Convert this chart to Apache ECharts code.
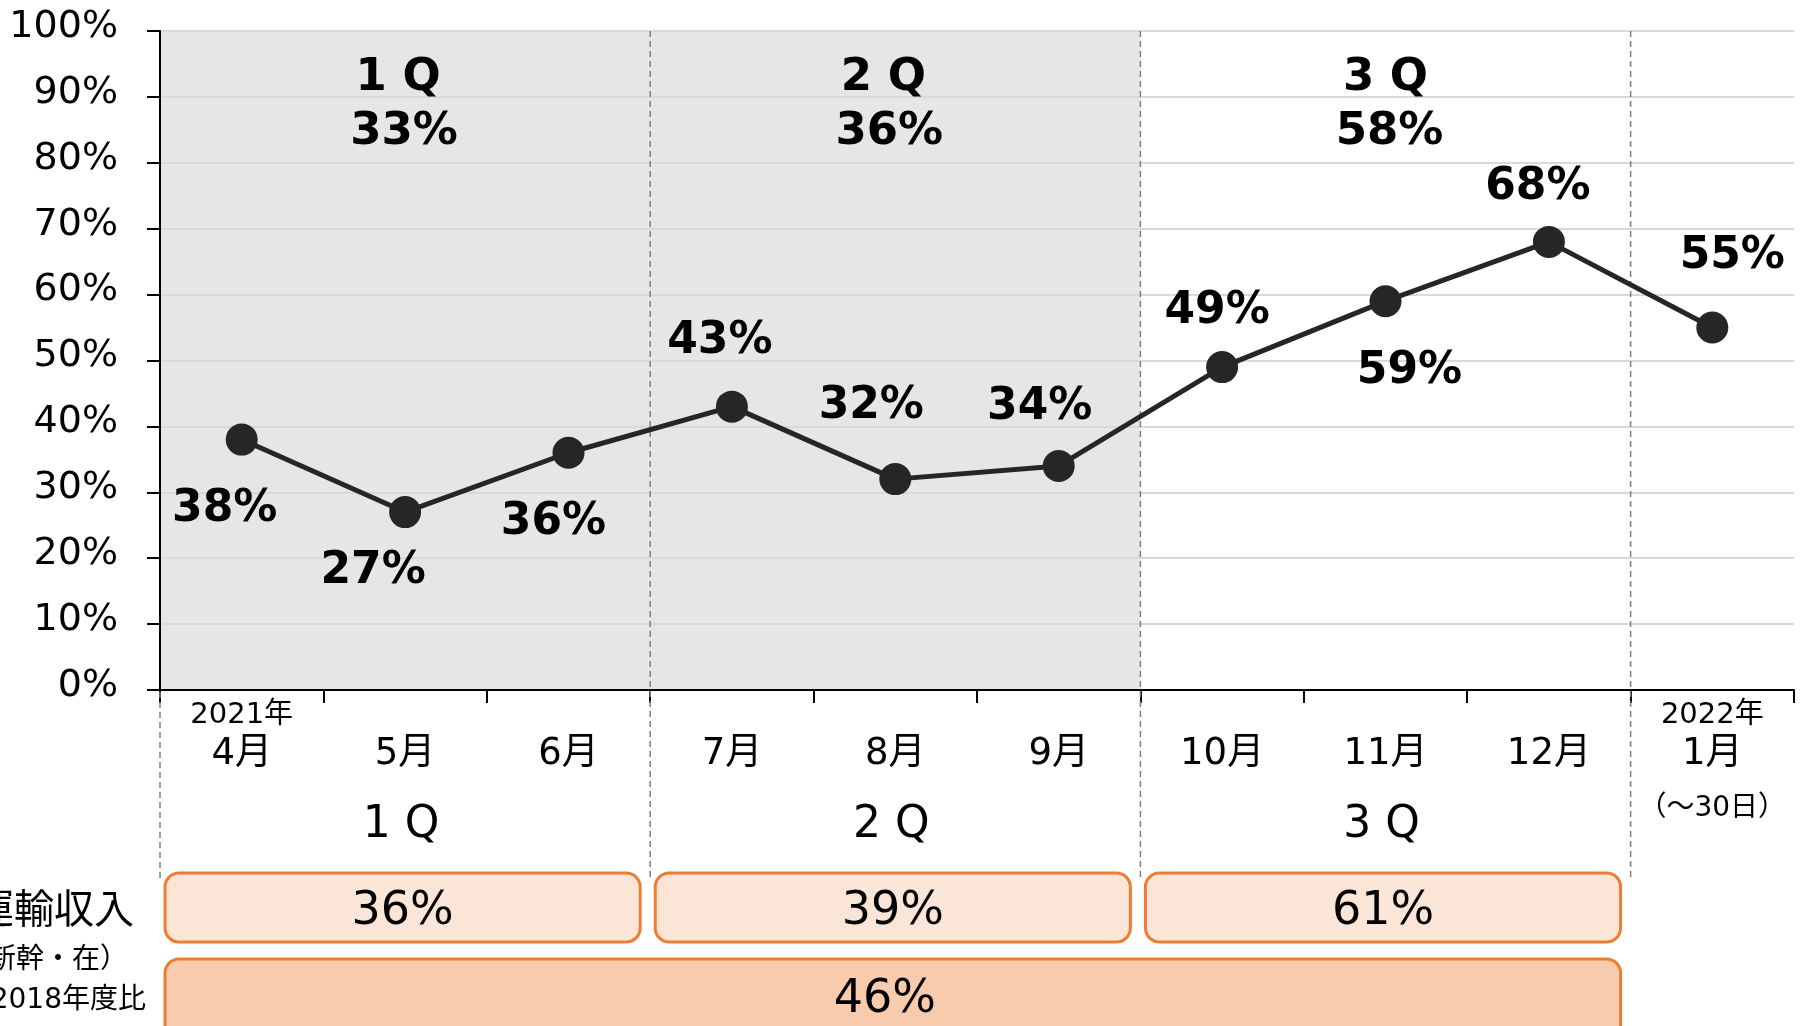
<!DOCTYPE html>
<html><head><meta charset="utf-8">
<script src="https://cdn.jsdelivr.net/npm/echarts@6/dist/echarts.min.js"></script>
<style>html,body{margin:0;padding:0;background:#fff;overflow:hidden}#c{width:1804px;height:1026px}</style>
</head><body><div id="c"></div>
<script>
// ---- data ----
const months = ['4月','5月','6月','7月','8月','9月','10月','11月','12月','1月'];
const yearLabels = ['2021年','','','','','','','','','2022年'];
const noteLabels = ['','','','','','','','','','（～30日）'];
const values = [38,27,36,43,32,34,49,59,68,55];
const quarters = ['1 Q','2 Q','3 Q'];
const quarterRates = [33,36,58];
const quarterRevenue = [36,39,61];
const totalRevenue = 46;
const sideLabels = ['運輸収入','（新幹・在）','2018年度比'];
const shadedMonths = 6;

// ---- styles ----
const labelOffsets = [[-17,70],[-32,59],[-15,70],[-12,-65],[-24,-73],[-19,-58],[-5,-56],[24,70],[-11,-54],[20,-71]];
const topLabelDx = [-7,-12,0];
const topRateDx = [-1,-6,4];
const FONT = "'DejaVu Sans', 'Noto Sans CJK JP', sans-serif";

const chart = echarts.init(document.getElementById('c'), null, {renderer:'canvas'});
const option = {
  animation: false,
  grid: {left:160, right:10, top:31, bottom:336, containLabel:false},
  xAxis: {
    type:'category', data: months, boundaryGap:true,
    axisLine:{show:true, lineStyle:{color:'#000', width:2}},
    axisTick:{show:true, length:13, lineStyle:{color:'#000', width:2}},
    splitLine:{show:false},
    axisLabel:{
      interval:0, margin:7, color:'#000', fontFamily:FONT,
      formatter:(v,i)=>{
        let s = '{y|' + (yearLabels[i] || ' ') + '}\n{m|' + v + '}';
        if (noteLabels[i]) s += '\n{n|' + noteLabels[i] + '}';
        return s;
      },
      rich:{
        y:{fontSize:29, lineHeight:36, fontFamily:FONT, color:'#000'},
        m:{fontSize:37, lineHeight:42, fontFamily:FONT, color:'#000'},
        n:{fontSize:28, lineHeight:68, fontFamily:FONT, color:'#000'}
      }
    }
  },
  yAxis: {
    type:'value', min:0, max:100, interval:10,
    axisLine:{show:true, lineStyle:{color:'#000', width:2}},
    axisTick:{show:true, length:13, lineStyle:{color:'#000', width:2}},
    splitLine:{show:true, lineStyle:{color:'#d9d9d9', width:2}},
    axisLabel:{
      formatter:v => '{a|' + v + '%}', margin:42, color:'#000',
      rich:{a:{fontSize:38, fontFamily:FONT, color:'#000', lineHeight:46, padding:[0,0,8,0]}}
    }
  },
  series: [{
    type:'line', z:5,
    data: values.map((v,i)=>({value:v, label:{offset:labelOffsets[i]}})),
    symbol:'circle', symbolSize:32,
    lineStyle:{color:'#262626', width:5},
    itemStyle:{color:'#262626'},
    label:{show:true, position:'inside', formatter:'{c}%', fontSize:44, fontWeight:'bold', fontFamily:FONT, color:'#000'}
  }]
};
chart.setOption(option);

const x = i => chart.convertToPixel({xAxisIndex:0}, i);
const y = v => chart.convertToPixel({yAxisIndex:0}, v);
const cw = x(1) - x(0);
const bx = k => x(0) - cw/2 + k*cw;
const yTop = y(100), y0 = y(0);
const g = [];
// shaded background
g.push({type:'rect', z:-1, shape:{x:bx(0), y:yTop, width:bx(shadedMonths)-bx(0), height:y0-yTop}, style:{fill:'#e6e6e6'}, silent:true});
// dashed separators
[0,3,6,9].forEach(k=>{
  g.push({type:'line', z:3, shape:{x1:bx(k), y1:(k===0? y0+2 : yTop), x2:bx(k), y2:880}, style:{stroke:'#7f7f7f', lineWidth:1.5, lineDash:[6,4]}, silent:true});
});
quarters.forEach((q,i)=>{
  const cx = (bx(3*i) + bx(3*i+3))/2;
  g.push({type:'text', z:6, style:{text:q, x:cx+topLabelDx[i], y:yTop+47, align:'center', verticalAlign:'middle', font:'bold 45px '+FONT, fill:'#000'}});
  g.push({type:'text', z:6, style:{text:quarterRates[i]+'%', x:cx+topRateDx[i], y:yTop+101, align:'center', verticalAlign:'middle', font:'bold 45px '+FONT, fill:'#000'}});
  g.push({type:'text', z:6, style:{text:q, x:cx-4, y:y0+136, align:'center', verticalAlign:'middle', font:'44px '+FONT, fill:'#000'}});
  const l = bx(3*i)+5, r = bx(3*i+3)-10;
  g.push({type:'rect', z:6, shape:{x:l, y:y0+183, width:r-l, height:69, r:14}, style:{fill:'#fbe5d6', stroke:'#ed7d31', lineWidth:3}});
  g.push({type:'text', z:7, style:{text:quarterRevenue[i]+'%', x:(l+r)/2, y:y0+222, align:'center', verticalAlign:'middle', font:'46px '+FONT, fill:'#000'}});
});
{
  const l = bx(0)+5, r = bx(9)-10;
  g.push({type:'rect', z:6, shape:{x:l, y:y0+269, width:r-l, height:110, r:14}, style:{fill:'#f8cbad', stroke:'#ed7d31', lineWidth:3}});
  g.push({type:'text', z:7, style:{text:totalRevenue+'%', x:(l+r)/2-8, y:y0+310, align:'center', verticalAlign:'middle', font:'46px '+FONT, fill:'#000'}});
}
g.push({type:'text', z:7, style:{text:sideLabels[0], x:134, y:y0+223, align:'right', verticalAlign:'middle', font:'40px '+FONT, fill:'#000'}});
g.push({type:'text', z:7, style:{text:sideLabels[1], x:128, y:y0+271, align:'right', verticalAlign:'middle', font:'28px '+FONT, fill:'#000'}});
g.push({type:'text', z:7, style:{text:sideLabels[2], x:146, y:y0+311, align:'right', verticalAlign:'middle', font:'28px '+FONT, fill:'#000'}});
chart.setOption({graphic:g});
</script>
</body></html>
